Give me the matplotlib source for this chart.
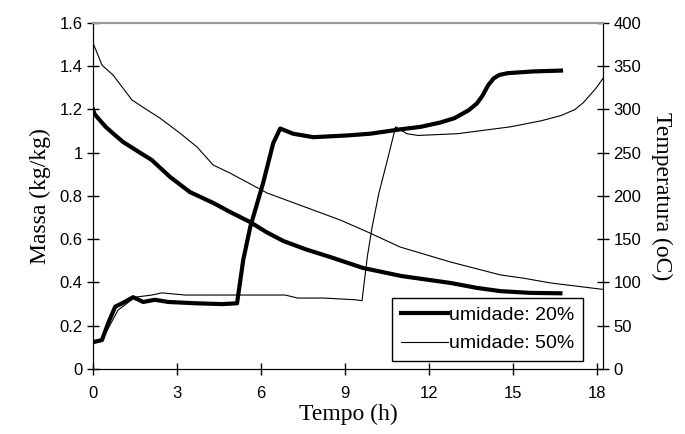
import matplotlib.pyplot as plt
from matplotlib.ticker import FuncFormatter

# massa (kg/kg) - eixo esquerdo
t_massa_20 = [0, 0.05, 0.18, 0.45, 0.71, 1.07, 1.68, 2.1, 2.75, 3.46, 4.29, 4.89, 5.6,
              6.2, 6.79, 7.6, 8.46, 9.64, 11.0, 12.75, 13.7, 14.54, 15.6, 16.68]
massa_20 = [1.20, 1.18, 1.16, 1.12, 1.09, 1.05, 1.0, 0.966, 0.888, 0.818, 0.768, 0.726, 0.68,
            0.632, 0.592, 0.553, 0.518, 0.467, 0.43, 0.398, 0.375, 0.36, 0.352, 0.35]

t_massa_50 = [0, 0.15, 0.32, 0.71, 1.39, 1.93, 2.39, 3.11, 3.71, 4.29, 4.89, 6.21, 7.86,
              8.82, 9.79, 10.96, 12.75, 14.54, 15.36, 16.32, 18.2]
massa_50 = [1.507, 1.46, 1.405, 1.36, 1.244, 1.198, 1.16, 1.09, 1.027, 0.943, 0.906, 0.814, 0.735,
            0.689, 0.634, 0.564, 0.495, 0.435, 0.42, 0.398, 0.368]

# temperatura (oC) - eixo direito
t_temp_20 = [0, 0.32, 0.54, 0.79, 1.04, 1.43, 1.79, 2.21, 2.68, 3.64, 4.61, 5.14,
             5.36, 5.61, 6.07, 6.43, 6.68, 7.14, 7.86, 9.07, 9.89, 10.96, 11.7, 12.4,
             12.9, 13.4, 13.7, 13.9, 14.1, 14.3, 14.5, 14.8, 15.7, 16.7]
temp_20 = [31, 33.5, 53, 72, 76, 83, 77.5, 80, 77.5, 76, 75, 76,
           126, 164, 215, 261, 278, 272, 268, 270, 272, 277, 280, 285,
           290, 299, 307, 316, 328, 336, 340, 342, 344, 345]

t_temp_50 = [0, 0.32, 0.89, 1.5, 2.1, 2.46, 3.29, 3.9, 5.07, 6.86, 7.3, 8.25, 9.36,
             9.6, 9.79, 9.96, 10.2, 10.5, 10.8, 11.2, 11.6, 13.0, 14.9, 16.0, 16.7,
             17.2, 17.5, 17.96, 18.2]
temp_50 = [31, 33.5, 68, 83, 85.5, 88, 85.5, 85.5, 85.5, 85.5, 82, 82, 80,
           79, 130, 164, 203, 241, 280, 272, 270, 272, 280, 287, 293,
           300, 308, 325, 336]

plt.rcParams['font.family'] = ['Liberation Sans', 'DejaVu Sans']

fig = plt.figure(figsize=(6.85, 4.34), dpi=100)
ax = fig.add_axes([0.1358, 0.1498, 0.7445, 0.7972])
ax2 = ax.twinx()

l1, = ax.plot(t_massa_20, massa_20, color='black', lw=3.0, label='umidade: 20%')
l2, = ax.plot(t_massa_50, massa_50, color='black', lw=0.8, label='umidade: 50%')
ax2.plot(t_temp_20, temp_20, color='black', lw=3.0)
ax2.plot(t_temp_50, temp_50, color='black', lw=0.8)

ax.set_xlim(0, 18.2)
ax.set_ylim(0, 1.6)
ax2.set_ylim(0, 400)
ax.set_xticks(range(0, 19, 3))
ax.set_yticks([0, 0.2, 0.4, 0.6, 0.8, 1.0, 1.2, 1.4, 1.6])
ax.yaxis.set_major_formatter(FuncFormatter(lambda v, p: '%g' % v))
ax2.set_yticks(range(0, 401, 50))

for a in (ax, ax2):
    a.tick_params(direction='inout', length=9, width=1, labelsize=12, colors='black', pad=3)
    a.spines['top'].set_color('#999999')
    a.spines['top'].set_linewidth(1.5)
ax.tick_params(axis='x', pad=8)

serif = ['Liberation Serif', 'DejaVu Serif']
ax.set_xlabel('Tempo (h)', family=serif, fontsize=17, labelpad=2)
ax.set_ylabel('Massa (kg/kg)', family=serif, fontsize=17, labelpad=6)
ax2.set_ylabel('Temperatura (oC)', family=serif, fontsize=17, rotation=270, labelpad=22)

leg = ax.legend(handles=[l1, l2], loc='lower right', bbox_to_anchor=(0.977, 0.0),
                fontsize=14, fancybox=False, framealpha=1, edgecolor='black',
                handlelength=2.4, handletextpad=0.1, borderpad=0.45, borderaxespad=0.4,
                labelspacing=0.55)
leg.get_frame().set_linewidth(1.0)

fig.savefig('out.png', dpi=100)
